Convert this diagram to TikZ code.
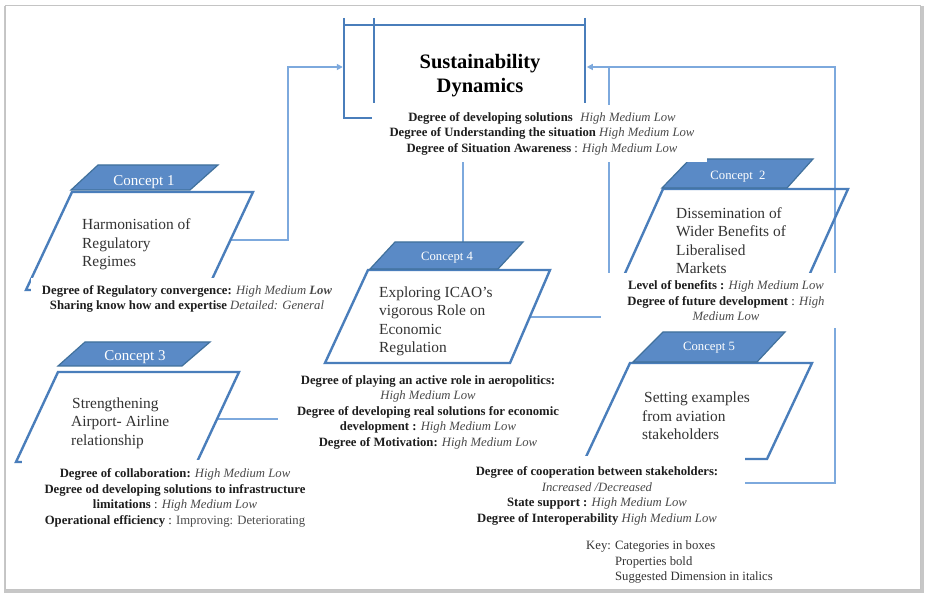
\documentclass[tikz,border=0pt]{standalone}
\usepackage{fontspec}
\setmainfont{Liberation Serif}
\usetikzlibrary{arrows.meta}

\definecolor{boxline}{HTML}{4A7EBB}
\definecolor{labelfill}{HTML}{5A8AC6}
\definecolor{labeledge}{HTML}{41719C}
\definecolor{linkline}{HTML}{7DA9DD}
\definecolor{textdark}{HTML}{1E1E1E}
\definecolor{textgrey}{HTML}{4A4A4A}
\definecolor{textbody}{HTML}{333333}
\definecolor{framegrey}{HTML}{C4C4C4}

\newcommand{\dimtext}[1]{\textcolor{textgrey}{\textit{#1}}}

\pgfdeclarelayer{back}
\pgfdeclarelayer{lines}
\pgfsetlayers{back,lines,main}

\begin{document}
\begin{tikzpicture}[x=1pt,y=-1pt,
  shapeline/.style={draw=boxline, line width=2.4pt, line join=miter},
  tab/.style={fill=labelfill, draw=labeledge, line width=1.2pt},
  link/.style={draw=linkline, line width=1.4pt},
  linkarrow/.style={link, -{Triangle[length=6pt,width=6pt]}},
  props/.style={fill=white, align=center, inner sep=0pt, text=textdark,
    font=\fontsize{12.7}{15.5}\selectfont},
  boxtext/.style={anchor=west, align=left, inner sep=0pt, text=textbody,
    font=\fontsize{15.4}{18.5}\selectfont},
  tabtext/.style={text=white, inner sep=0pt},
  title/.style={align=center, inner sep=0pt, text=black,
    font=\fontsize{20.5}{24}\selectfont\bfseries},
  keytext/.style={anchor=west, inner sep=0pt, text=textbody,
    font=\fontsize{12.7}{15.5}\selectfont}
]
\useasboundingbox (0,0) rectangle (927,593);

% page frame with its shadow
\begin{pgfonlayer}{back}
  \fill[black!22] (3.5,6) rectangle (924,592.5);
  \filldraw[fill=white, draw=framegrey, line width=0.8pt] (5,5) rectangle (920,589);
\end{pgfonlayer}

% ---------- property blocks (white panels over the outlines) ----------
\node[props, minimum width=330pt, minimum height=57pt] (susprops) at (542,133.5)
  {\textbf{Degree of developing solutions}\hspace{0.35em} \dimtext{High Medium Low}\\
   \textbf{Degree of Understanding the situation} \dimtext{High Medium Low}\\
   \textbf{Degree of Situation Awareness} : \dimtext{High Medium Low}};
\node[props, minimum width=312pt, minimum height=42pt] (c1props) at (187,299)
  {\textbf{Degree of Regulatory convergence:} \dimtext{High Medium \textbf{Low}}\\
   \textbf{Sharing know how and expertise} \dimtext{Detailed: General}};
\node[props, minimum width=250pt, minimum height=55pt] (c2props) at (726,301)
  {\textbf{Level of benefits :} \dimtext{High Medium Low}\\
   \textbf{Degree of future development} : \dimtext{High}\\
   \dimtext{Medium Low}};
\node[props, minimum width=306pt, minimum height=76pt] (c3props) at (175,498)
  {\textbf{Degree of collaboration:} \dimtext{High Medium Low}\\
   \textbf{Degree od developing solutions to infrastructure}\\
   \textbf{limitations} : \dimtext{High Medium Low}\\
   \textbf{Operational efficiency} : \textcolor{textgrey}{Improving: Deteriorating}};
\node[props, minimum width=300pt, minimum height=86pt] (c4props) at (428,412)
  {\textbf{Degree of playing an active role in aeropolitics:}\\
   \dimtext{High Medium Low}\\
   \textbf{Degree of developing real solutions for economic}\\
   \textbf{development :} \dimtext{High Medium Low}\\
   \textbf{Degree of Motivation:} \dimtext{High Medium Low}};
\node[props, minimum width=296pt, minimum height=79pt] (c5props) at (597,496)
  {\textbf{Degree of cooperation between stakeholders:}\\
   \dimtext{Increased /Decreased}\\
   \textbf{State support :} \dimtext{High Medium Low}\\
   \textbf{Degree of Interoperability} \dimtext{High Medium Low}};

% ---------- titles, tabs and box texts ----------
\node[title] (title) at (480,76) {Sustainability\\Dynamics};

\node[tabtext, font=\fontsize{15}{18}\selectfont] (c1tab) at (144,182) {Concept 1};
\node[boxtext] (c1text) at (82,244.5) {Harmonisation of\\Regulatory\\Regimes};

\node[tabtext, font=\fontsize{12.7}{15}\selectfont] (c2tab) at (738,177) {Concept\ \ 2};
\node[boxtext] (c2text) at (676,240.5) {Dissemination of\\Wider Benefits of\\Liberalised\\Markets};

\node[tabtext, font=\fontsize{15}{18}\selectfont] (c3tab) at (135,357) {Concept 3};
\node[boxtext] (c3text) at (71,423) {\hspace{1pt}Strengthening\\Airport- Airline\\relationship};

\node[tabtext, font=\fontsize{12.7}{15}\selectfont] (c4tab) at (447,258) {Concept 4};
\node[boxtext] (c4text) at (379,321.5) {Exploring ICAO's\\vigorous Role on\\Economic\\Regulation};

\node[tabtext, font=\fontsize{12.7}{15}\selectfont] (c5tab) at (709,348) {Concept 5};
\node[boxtext] (c5text) at (642,416) {\hspace{2pt}Setting examples\\from aviation\\stakeholders};

% key
\node[keytext] (key) at (586,562)
  {\begin{tabular}{@{}l@{ }l@{}}Key: & Categories in boxes\\ & Properties bold\\ & Suggested Dimension in italics\end{tabular}};

% ---------- connector end points ----------
\coordinate (sdleft) at (342.8,67);
\coordinate (sdright) at (586.8,67);
\coordinate (c1out) at (230,240);
\coordinate (c1bend) at (288,67);
\coordinate (c5out) at (745,483);
\coordinate (c5bend) at (835,67);
\coordinate (c4top) at (463,242);
\coordinate (c4out) at (530,317);
\coordinate (c4bend) at (609,67);
\coordinate (c3out) at (217,419);

\begin{pgfonlayer}{lines}
  % connectors
  \draw[linkarrow] (c1out) -| (c1bend) -- (sdleft);
  \draw[linkarrow] (c5out) -| (c5bend) -- (sdright);
  \draw[link] (c4top) -- (c4top |- susprops.south);
  \draw[link] (c4out) -| (c4bend);
  \draw[link] (c3out) -- (c3out -| c4props.west);

  % scroll outline of the central box
  \draw[shapeline] (344,18) -- (344,118) -- (372,118);
  \draw[shapeline] (344,25) -- (585,25);
  \draw[shapeline] (374,18) -- (374,103);
  \draw[shapeline] (585,18) -- (585,103);

  % concept 1
  \draw[shapeline] (72,192) -- (253,192) -- (207,290) -- (26,290) -- cycle;
  \draw[tab] (98,165) -- (218,165) -- (190,190) -- (71,190) -- cycle;
  % concept 2
  \draw[shapeline] (663,189) -- (848,189) -- (798,300) -- (613,300) -- cycle;
  \draw[tab] (690,159) -- (813,159) -- (787,188) -- (662,188) -- cycle;
  % concept 3
  \draw[shapeline] (58,372) -- (239,372) -- (197,462) -- (16,462) -- cycle;
  \draw[tab] (85,342) -- (210,342) -- (182,366) -- (58,366) -- cycle;
  % concept 4
  \draw[shapeline] (368,270) -- (550,270) -- (510,363) -- (325,363) -- cycle;
  \draw[tab] (395,242) -- (523,242) -- (498,269) -- (370,269) -- cycle;
  % concept 5
  \draw[shapeline] (630,363) -- (812,363) -- (767,459) -- (585,459) -- cycle;
  \draw[tab] (663,332) -- (785,332) -- (757,362) -- (633,362) -- cycle;
\end{pgfonlayer}
\end{tikzpicture}
\end{document}
